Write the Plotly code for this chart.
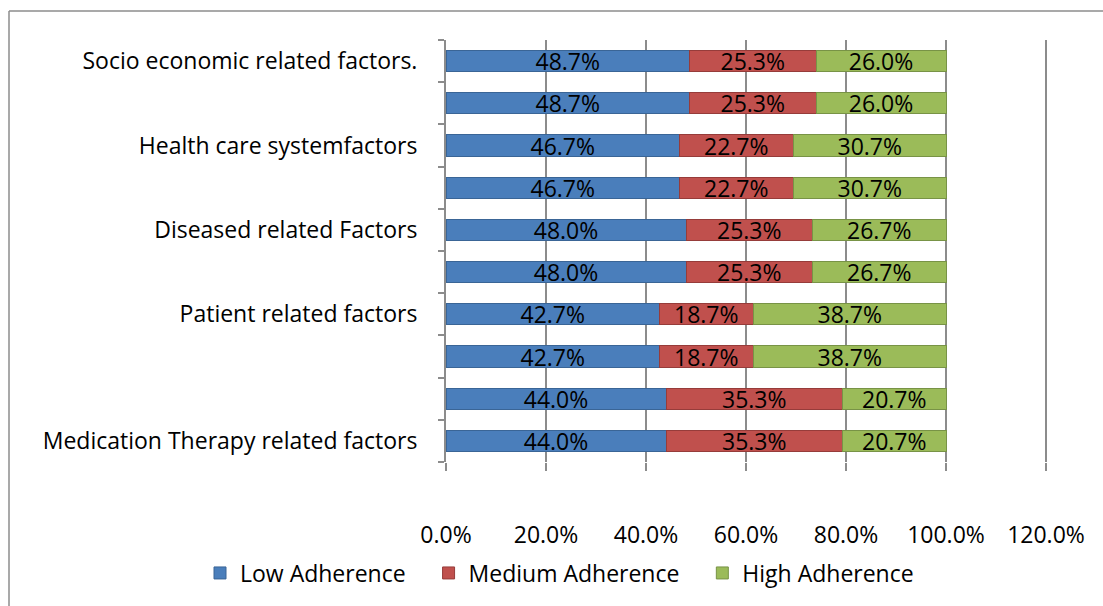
import plotly.graph_objects as go

categories = [
    "Medication Therapy related factors", " ", "  ",
    "Patient related factors", "   ",
    "Diseased related Factors", "    ",
    "Health care systemfactors", "     ",
    "Socio economic related factors.",
]
low = [44.0, 44.0, 42.7, 42.7, 48.0, 48.0, 46.7, 46.7, 48.7, 48.7]
medium = [35.3, 35.3, 18.7, 18.7, 25.3, 25.3, 22.7, 22.7, 25.3, 25.3]
high = [20.7, 20.7, 38.7, 38.7, 26.7, 26.7, 30.7, 30.7, 26.0, 26.0]
series_names = ["Low Adherence", "Medium Adherence", "High Adherence"]
x_ticks = [0, 20, 40, 60, 80, 100, 120]
x_tick_labels = ["0.0%", "20.0%", "40.0%", "60.0%", "80.0%", "100.0%", "120.0%"]

FONT = "Open Sans"
FS = 23
colors = ["#4A7EBB", "#C0504D", "#9BBB59"]
edges = ["#3A6596", "#963C3A", "#789346"]
GRID = "#8C8C8C"

fig = go.Figure()
for name, vals, c, e in zip(series_names, [low, medium, high], colors, edges):
    fig.add_trace(go.Bar(
        y=categories, x=vals, name=name + "\u00a0" * 3, orientation="h",
        marker=dict(color=c, line=dict(color=e, width=1)),
        text=[f"{v:.1f}%" for v in vals], textposition="inside",
        insidetextanchor="middle", constraintext="none",
        textfont=dict(family=FONT, size=FS, color="black"),
        width=0.5,
    ))

L, R, T, B = 446, 52, 40, 144
W, H = 1103, 606
pw, ph = W - L - R, H - T - B

def px(x):
    return (x - L) / pw

def py(y):
    return (H - B - y) / ph

fig.update_layout(
    template="none",
    barmode="stack",
    width=W, height=H,
    margin=dict(l=L, r=R, t=T, b=B, autoexpand=False),
    paper_bgcolor="white", plot_bgcolor="white",
    font=dict(family=FONT, size=FS, color="black"),
    xaxis=dict(
        range=[0, 121], tickmode="array", tickvals=x_ticks, ticktext=x_tick_labels,
        showgrid=True, gridcolor=GRID, gridwidth=2,
        showline=False, zeroline=False,
        ticks="outside", ticklen=8, tickcolor=GRID, tickwidth=2,
        ticklabelstandoff=44,
        tickfont=dict(family=FONT, size=FS, color="black"),
    ),
    yaxis=dict(
        categoryorder="array", categoryarray=categories,
        range=[-0.5, 9.5],
        showline=True, linecolor=GRID, linewidth=2,
        ticks="outside", ticklen=6, tickcolor=GRID, tickwidth=2,
        tickson="boundaries",
        showgrid=False, zeroline=False,
        ticklabelstandoff=22,
        tickfont=dict(family=FONT, size=FS, color="black"),
    ),
    legend=dict(
        orientation="h", x=px(200), xanchor="left",
        y=py(573), yanchor="middle",
        font=dict(family=FONT, size=FS, color="black"),
        traceorder="normal", bgcolor="rgba(0,0,0,0)",
    ),
    showlegend=True,
    shapes=[
        dict(type="line", xref="paper", yref="paper", x0=px(9), x1=px(1200),
             y0=py(11), y1=py(11), line=dict(color=GRID, width=1.5)),
        dict(type="line", xref="paper", yref="paper", x0=px(9), x1=px(9),
             y0=py(11), y1=py(700), line=dict(color=GRID, width=1.5)),
    ],
)

fig.write_html("out.html")
